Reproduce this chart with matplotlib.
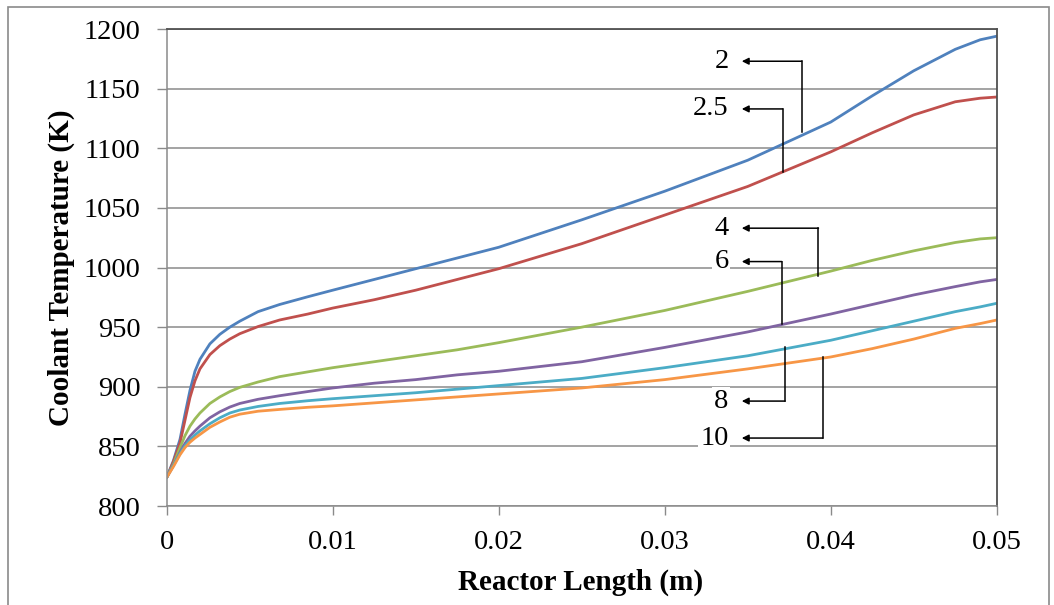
import matplotlib
matplotlib.use("Agg")
import matplotlib.pyplot as plt
from matplotlib.patches import Rectangle

plt.rcParams['font.family'] = ['Liberation Serif', 'DejaVu Serif']

# reactor length (m)
x = [0, 0.0004, 0.0008, 0.0011, 0.0014, 0.0017, 0.002, 0.0026, 0.0032, 0.0038,
     0.0044, 0.0055, 0.0068, 0.0085, 0.01, 0.0125, 0.015, 0.0175, 0.02, 0.025,
     0.03, 0.035, 0.04, 0.0425, 0.045, 0.0475, 0.049, 0.05]

# coolant temperature (K) for each case
t_2 = [824, 838, 856, 877, 897, 913, 923, 936, 944, 950,
       955, 963, 969, 975.5, 981, 990, 999, 1008, 1017, 1040,
       1064, 1090, 1122, 1144, 1165, 1183, 1191, 1194]
t_25 = [824, 837, 853, 872, 891, 905, 915, 927, 934.5, 940,
        944.5, 950.5, 956, 961, 966, 973, 981, 990, 999, 1020,
        1044, 1068, 1097, 1113, 1128, 1139, 1142, 1143]
t_4 = [824, 835, 849, 859, 867, 873, 878, 886, 891.5, 896,
       899.5, 904, 908.5, 912.5, 916, 921, 926, 931, 937, 950,
       964, 980, 997, 1006, 1014, 1021, 1024, 1025]
t_6 = [824, 834, 845, 852.5, 858.5, 863, 867, 874, 879, 883,
       886, 889.5, 892.5, 896, 899, 903, 906, 910, 913, 921,
       933, 946, 961, 969, 977, 984, 988, 990]
t_8 = [824, 834, 844, 850.5, 855.5, 859.5, 863, 869, 874, 878,
       880.5, 883.5, 886, 888.3, 890, 892.5, 895, 898, 901, 907,
       916, 926, 939, 947, 955, 963, 967, 970]
t_10 = [824, 833, 843, 849, 853.5, 857, 860, 866, 870.5, 874.5,
        877, 879.5, 881, 882.8, 884, 886.5, 889, 891.5, 894, 899,
        906, 915, 925, 932, 940, 949, 953, 956]

labels = ["2", "2.5", "4", "6", "8", "10"]
series = [t_2, t_25, t_4, t_6, t_8, t_10]
colors = ["#4F81BD", "#C0504D", "#9BBB59", "#8064A2", "#4BACC6", "#F79646"]

# label annotations: text y, corner x, y where the leader meets the curve
ann_y = [1173, 1133, 1033, 1005, 888, 857]
ann_cx = [0.03825, 0.0371, 0.03926, 0.03705, 0.03725, 0.03952]
ann_end = [1114, 1080, 993, 953, 933, 925]

fig = plt.figure(figsize=(10.54, 6.05), dpi=100)
ax = fig.add_axes([0.1582, 0.1636, 0.7875, 0.7884])

for yv, c in zip(series, colors):
    ax.plot(x, yv, color=c, lw=2, solid_capstyle='round', solid_joinstyle='round')

ax.set_xlim(0, 0.05)
ax.set_ylim(800, 1200)
ax.set_xticks([0, 0.01, 0.02, 0.03, 0.04, 0.05])
ax.set_xticklabels(["0", "0.01", "0.02", "0.03", "0.04", "0.05"])
ax.set_yticks(range(800, 1201, 50))
ax.yaxis.grid(True, color="#8a8a8a", lw=1.1)
ax.set_axisbelow(True)
ax.tick_params(axis='y', direction='out', length=7, width=1, color="#8a8a8a", pad=12, labelsize=20.5)
ax.tick_params(axis='x', direction='out', length=6.5, width=1, color="#8a8a8a", pad=11, labelsize=20.5)
for s in ["left", "bottom"]:
    ax.spines[s].set_color("#8a8a8a")
    ax.spines[s].set_linewidth(1.1)
for s in ["top", "right"]:
    ax.spines[s].set_color("#505050")
    ax.spines[s].set_linewidth(1.3)

ax.set_xlabel("Reactor Length (m)", fontsize=21, fontweight='bold')
ax.set_ylabel("Coolant Temperature (K)", fontsize=21, fontweight='bold')
ax.xaxis.set_label_coords(0.498, -0.131)
ax.yaxis.set_label_coords(-0.110, 0.5)

head_x = 0.03464
for lab, ty, cx, ey in zip(labels, ann_y, ann_cx, ann_end):
    ax.plot([cx, cx], [ey, ty], color="black", lw=1.1)
    ax.annotate("", xy=(head_x, ty), xytext=(cx, ty),
                arrowprops=dict(arrowstyle='-|>', color='black', lw=1.1,
                                mutation_scale=10, shrinkA=0, shrinkB=0))
    ax.text(head_x - 0.0008, ty, lab, ha='right', va='center', fontsize=20.5,
            bbox=dict(facecolor='white', edgecolor='none', pad=1.5))

fig.patches.append(Rectangle((8 / 1054, -0.01), 1041 / 1054, 1 - 7 / 605 + 0.01,
                             transform=fig.transFigure, fill=False,
                             edgecolor="#8a8a8a", lw=1.2))

fig.savefig("out.png", dpi=100)
